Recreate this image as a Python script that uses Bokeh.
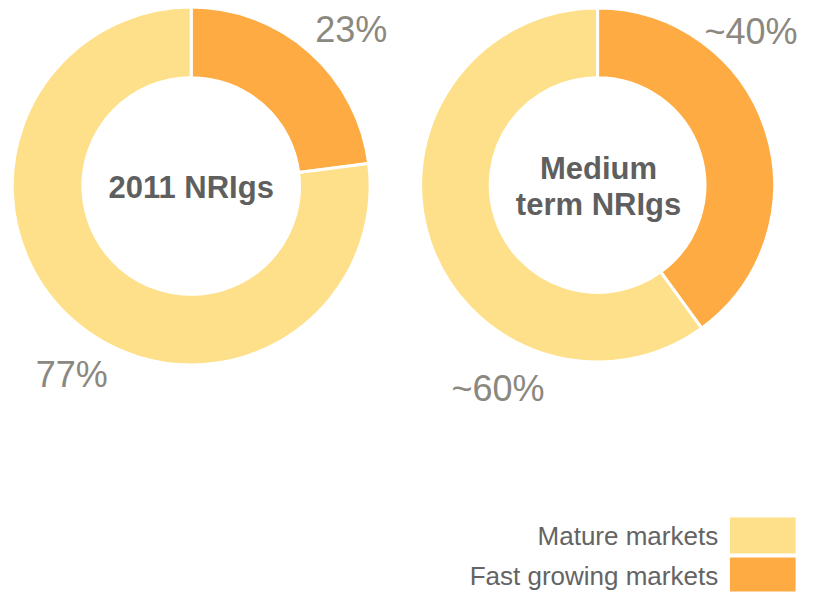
import math
from bokeh.plotting import figure
from bokeh.models import Range1d, ColumnDataSource
from bokeh.embed import file_html
from bokeh.resources import INLINE
from bokeh.core.properties import value

# ---------------- data ----------------
segments = ["Fast growing markets", "Mature markets"]
segment_colors = ["#FDAB42", "#FEE08A"]
legend_order = ["Mature markets", "Fast growing markets"]

chart_names = ["2011 NRIgs", "Medium term NRIgs"]
chart_title_lines = [["2011 NRIgs"], ["Medium", "term NRIgs"]]
shares_2011 = [23, 77]
shares_medium = [40, 60]
labels_2011 = ["23%", "77%"]
labels_medium = ["~40%", "~60%"]

# ---------------- layout ----------------
W, H = 801, 594
REF_W, REF_H = 817, 610
FONT = "Liberation Sans"


def Y(sy):
    return REF_H - sy


p = figure(width=W, height=H, output_backend="svg", toolbar_location=None,
           x_range=Range1d(0, REF_W), y_range=Range1d(0, REF_H),
           min_border=0, outline_line_color=None)
p.axis.visible = False
p.grid.visible = False
p.background_fill_color = "white"
p.border_fill_color = "white"


def donut(cx, cy, r_out, r_in, shares):
    total = float(sum(shares))
    starts, ends = [], []
    cum = 0.0
    for s in shares:
        starts.append(math.pi / 2 - 2 * math.pi * cum / total)
        cum += s
        ends.append(math.pi / 2 - 2 * math.pi * cum / total)
    src = ColumnDataSource(dict(x=[cx] * len(shares), y=[Y(cy)] * len(shares),
                                start=starts, end=ends, color=segment_colors,
                                name=segments))
    p.annular_wedge(x="x", y="y", inner_radius=r_in, outer_radius=r_out,
                    start_angle="start", end_angle="end", direction="clock",
                    fill_color="color", line_color="white", line_width=3,
                    source=src)


donut(194.5, 190.5, 182.5, 110.5, shares_2011)
donut(609, 189.5, 180.5, 109.5, shares_medium)

# percentage labels (positions = middle of the digits)
pct_color = "#8B887F"
pct_pos_2011 = [(321, 30), (36, 384.5)]
pct_pos_medium = [(718, 31.5), (460, 398.5)]
for labels, pos in ((labels_2011, pct_pos_2011), (labels_medium, pct_pos_medium)):
    p.text(x=[q[0] for q in pos], y=[Y(q[1]) for q in pos], text=labels,
           text_font=value(FONT), text_font_size="36px", text_color=pct_color,
           text_align="left", text_baseline="middle")

# center titles
title_color = "#5F5F5F"
title_centers = [(194.5, [192]), (610, [173, 210])]
for lines, (cx, mids) in zip(chart_title_lines, title_centers):
    p.text(x=[cx] * len(lines), y=[Y(m) for m in mids], text=lines,
           text_font=value(FONT), text_font_size="31px", text_font_style="bold",
           text_color=title_color, text_align="center", text_baseline="middle")

# legend
leg_colors = [segment_colors[segments.index(s)] for s in legend_order]
sw_left, sw_right = 744, 811
sw_tops = [531, 572]
sw_bottoms = [568, 607]
p.quad(left=[sw_left] * 2, right=[sw_right] * 2,
       top=[Y(t) for t in sw_tops], bottom=[Y(b) for b in sw_bottoms],
       fill_color=leg_colors, line_color=None)
p.text(x=[732] * 2, y=[Y(549.5), Y(590.5)], text=legend_order,
       text_font=value(FONT), text_font_size="26px", text_color="#646464",
       text_align="right", text_baseline="middle")

open("out.html", "w").write(file_html(p, INLINE))
